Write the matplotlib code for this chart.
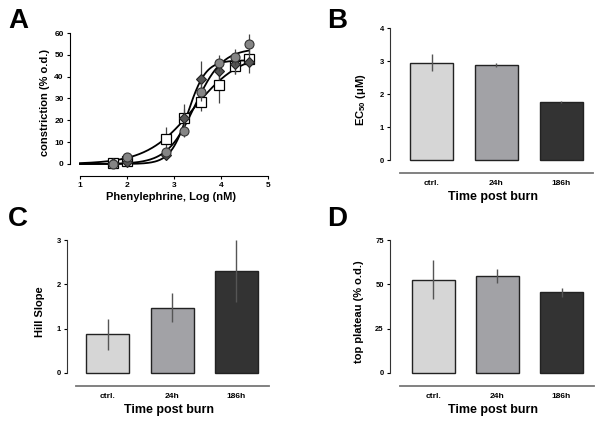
import numpy as np
import matplotlib
matplotlib.use("Agg")
import matplotlib.pyplot as plt

plt.rcParams['font.family'] = ['Liberation Sans', 'DejaVu Sans']
plt.rcParams['font.weight'] = 'bold'
plt.rcParams['mathtext.fontset'] = 'custom'
plt.rcParams['mathtext.rm'] = 'Liberation Sans:bold'
plt.rcParams['mathtext.bf'] = 'Liberation Sans:bold'

# panel A: concentration-response
log_conc = [1.7, 2.0, 2.82, 3.22, 3.57, 3.95, 4.3, 4.6]
ctrl_resp = [0.5, 1.5, 11.4, 21.0, 28.3, 36.0, 45.0, 48.0]
ctrl_err = [0.5, 1.0, 5.5, 6.5, 4.0, 8.0, 4.0, 3.0]
h24_resp = [0.0, 3.0, 5.5, 15.2, 33.0, 46.3, 49.0, 55.0]
h24_err = [0.5, 1.5, 2.0, 3.0, 4.0, 3.5, 3.5, 4.5]
h186_resp = [0.5, 1.0, 4.0, 21.0, 39.0, 42.5, 46.0, 46.7]
h186_err = [0.5, 1.0, 2.0, 4.0, 8.0, 4.0, 5.0, 5.0]

# fitted curve parameters (bottom, top, logEC50, hill) per group
fit_ctrl = (0.0, 51.0, 3.42, 0.87)
fit_24h = (0.0, 53.0, 3.44, 1.47)
fit_186h = (0.0, 47.5, 3.30, 2.3)

# panels B-D
groups = ['ctrl.', '24h', '186h']
ec50 = [2.95, 2.88, 1.75]
ec50_err = [0.25, 0.05, 0.03]
hill = [0.87, 1.47, 2.3]
hill_err = [0.35, 0.33, 0.7]
top = [52.5, 54.5, 45.5]
top_err = [11.0, 4.0, 2.5]

bar_colors = ['#d6d6d6', '#a2a2a6', '#333333']

W, H = 602, 422
fig = plt.figure(figsize=(W / 100, H / 100), dpi=100)


def add_ax(x0, y0, x1, y1):
    return fig.add_axes([x0 / W, 1 - y1 / H, (x1 - x0) / W, (y1 - y0) / H])


def hill_curve(x, p):
    b, t, lec, h = p
    return b + (t - b) / (1 + 10 ** ((lec - x) * h))


# ---- A ----
ax = add_ax(70, 30, 272, 176)
xs = np.linspace(1.0, 4.6, 200)
for p in (fit_ctrl, fit_24h, fit_186h):
    ax.plot(xs, hill_curve(xs, p), color='black', lw=1.3, zorder=2)
ax.errorbar(log_conc, ctrl_resp, yerr=ctrl_err, fmt='s', ms=6.5, mfc='white',
            mec='black', mew=0.9, ecolor='#444444', elinewidth=0.9, capsize=0, zorder=3)
ax.errorbar(log_conc, h186_resp, yerr=h186_err, fmt='D', ms=5, mfc='#555555',
            mec='#222222', mew=0.8, ecolor='#444444', elinewidth=0.9, capsize=0, zorder=4)
ax.errorbar(log_conc, h24_resp, yerr=h24_err, fmt='o', ms=6.5, mfc='#858585',
            mec='#333333', mew=0.8, ecolor='#444444', elinewidth=0.9, capsize=0, zorder=5)
ax.set_xlim(1 - 10 / 47, 1 + 192 / 47)
ax.set_ylim(-12 / 2.183, 60 + 3 / 2.183)
ax.spines['top'].set_visible(False)
ax.spines['right'].set_visible(False)
ax.spines['left'].set_bounds(0, 60)
ax.spines['bottom'].set_bounds(1, 5)
ax.set_yticks([0, 10, 20, 30, 40, 50, 60])
ax.set_xticks([1, 2, 3, 4, 5])
ax.tick_params(labelsize=6, length=2.5, width=0.8, pad=2)
ax.set_ylabel('constriction (% o.d.)', fontsize=8, fontweight='bold', labelpad=3)
ax.set_xlabel('Phenylephrine, Log (nM)', fontsize=8, fontweight='bold', labelpad=2)


def bar_panel(rect, vals, errs, y_max, yticks, ylabel, px_per_unit, x_line_px,
              centers_px, xline_px):
    x0, y0, x1, y1 = rect
    a = add_ax(*rect)
    spacing = (centers_px[2] - centers_px[0]) / 2
    pos = np.arange(len(groups))
    a.bar(pos, vals, width=43 / spacing, color=bar_colors, edgecolor='#222222',
          linewidth=1.0, zorder=2)
    a.errorbar(pos, vals, yerr=errs, fmt='none', ecolor='#555555', elinewidth=1.0,
               capsize=0, zorder=3)
    a.set_xlim((x0 - centers_px[0]) / spacing, (x1 - centers_px[0]) / spacing)
    a.set_ylim(-x_line_px / px_per_unit, y_max + (y0 - 0) / px_per_unit * 0 + 2 / px_per_unit)
    for s in ('top', 'right'):
        a.spines[s].set_visible(False)
    a.spines['left'].set_bounds(0, y_max)
    a.spines['left'].set_color('#333333')
    a.spines['bottom'].set_bounds((xline_px[0] - centers_px[0]) / spacing,
                                  (xline_px[1] - centers_px[0]) / spacing)
    a.spines['bottom'].set_color('#777777')
    a.spines['bottom'].set_linewidth(1.3)
    a.set_yticks(yticks)
    a.set_xticks(pos)
    a.set_xticklabels(groups)
    a.tick_params(axis='y', labelsize=5.5, length=2.5, width=0.8, pad=2)
    a.tick_params(axis='x', labelsize=6, length=0, pad=5)
    a.set_ylabel(ylabel, fontsize=8, fontweight='bold', labelpad=8)
    a.set_xlabel('Time post burn', fontsize=9, fontweight='bold', labelpad=3)
    return a


# ---- B ----
bar_panel((390, 26, 596, 173), ec50, ec50_err, 4, [0, 1, 2, 3, 4],
          r'EC$_{50}$ (μM)', 33.0, 13, (431.5, 496.5, 561.0), (400, 593))
# ---- C ----
bar_panel((67, 238, 272, 386), hill, hill_err, 3, [0, 1, 2, 3],
          'Hill Slope', 44.3, 13, (107.5, 172.0, 236.5), (76, 269))
# ---- D ----
bar_panel((390, 238, 596, 386), top, top_err, 75, [0, 25, 50, 75],
          'top plateau (% o.d.)', 1.773, 13, (433.0, 497.0, 561.5), (400, 594))

for lab, x, y in (('A', 8, 28), ('B', 327, 28), ('C', 8, 226), ('D', 327, 226)):
    fig.text(x / W, 1 - y / H, lab, fontsize=20, fontweight='bold', ha='left',
             va='baseline')

fig.savefig('out.png', dpi=100)
